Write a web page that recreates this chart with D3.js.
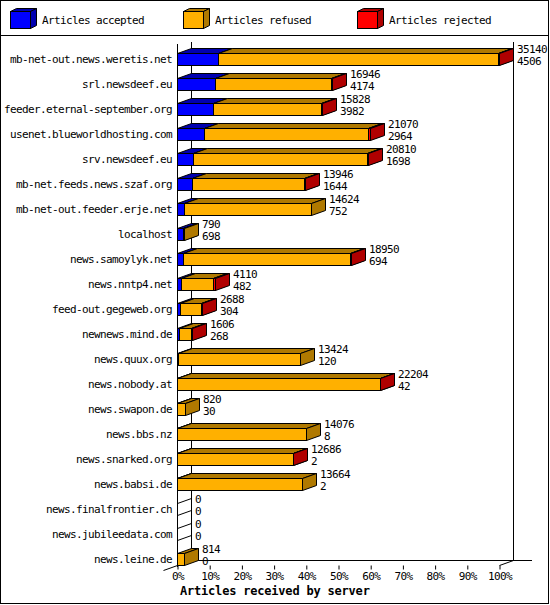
<!DOCTYPE html>
<html>
<head>
<meta charset="utf-8">
<script src="https://cdn.jsdelivr.net/npm/d3@7"></script>
<style>
  html, body { margin: 0; padding: 0; background: #fff; }
  svg { display: block; }
  text { font-family: "DejaVu Sans Mono", "Liberation Mono", monospace; }
  .sm { font-size: 11px; letter-spacing: -0.62px; }
</style>
</head>
<body>
<svg id="chart" width="550" height="605"></svg>
<script>
const categories = [
  "mb-net-out.news.weretis.net", "srl.newsdeef.eu", "feeder.eternal-september.org",
  "usenet.blueworldhosting.com", "srv.newsdeef.eu", "mb-net.feeds.news.szaf.org",
  "mb-net-out.feeder.erje.net", "localhost", "news.samoylyk.net", "news.nntp4.net",
  "feed-out.gegeweb.org", "newnews.mind.de", "news.quux.org", "news.nobody.at",
  "news.swapon.de", "news.bbs.nz", "news.snarked.org", "news.babsi.de",
  "news.finalfrontier.ch", "news.jubileedata.com", "news.leine.de"
];
const offered  = [35140, 16946, 15828, 21070, 20810, 13946, 14624, 790, 18950, 4110, 2688, 1606, 13424, 22204, 820, 14076, 12686, 13664, 0, 0, 814];
const accepted = [4506, 4174, 3982, 2964, 1698, 1644, 752, 698, 694, 482, 304, 268, 120, 42, 30, 8, 2, 2, 0, 0, 0];
const refused  = [30534, 12652, 11786, 17856, 19032, 12242, 13872, 92, 18156, 3448, 2334, 1258, 13304, 22062, 790, 14068, 12644, 13662, 0, 0, 814];
const rejected = [100, 120, 60, 250, 80, 60, 0, 0, 100, 180, 50, 80, 0, 100, 0, 0, 40, 0, 0, 0, 0];
const seriesNames = ["Articles accepted", "Articles refused", "Articles rejected"];
const seriesColors = ["#0000ff", "#ffb000", "#ff0000"];
const seriesDark = ["#0000b0", "#b07900", "#b00000"];
const percentTicks = [0, 10, 20, 30, 40, 50, 60, 70, 80, 90, 100];
const xTitle = "Articles received by server";

const svg = d3.select("#chart");
const DX = 14, DY = 5, HALF = 6;

const x = d3.scaleLinear().domain([0, d3.max(offered)]).range([177, 499]);
const xp = d3.scaleLinear().domain([0, 100]).range([177, 499]);
const y = d3.scalePoint().domain(categories).range([59, 559]);

// frame
svg.append("rect").attr("x", 0.5).attr("y", 0.5).attr("width", 548).attr("height", 603)
  .attr("fill", "none").attr("stroke", "#000");
svg.append("line").attr("x1", 0).attr("x2", 549).attr("y1", 35.5).attr("y2", 35.5).attr("stroke", "#000");

// legend
const legX = [10, 183, 357];
seriesNames.forEach((n, i) => {
  const g = svg.append("g");
  const x0 = legX[i], y0 = 11, w = 20, h = 17, d = 6, e = 3;
  g.append("polygon").attr("points", [[x0, y0], [x0 + d, y0 - e], [x0 + w + d, y0 - e], [x0 + w, y0]].map(p => p.map(v => v + 0.5).join(",")).join(" "))
    .attr("fill", seriesDark[i]).attr("stroke", "#000");
  g.append("polygon").attr("points", [[x0 + w, y0], [x0 + w + d, y0 - e], [x0 + w + d, y0 + h - e], [x0 + w, y0 + h]].map(p => p.map(v => v + 0.5).join(",")).join(" "))
    .attr("fill", seriesDark[i]).attr("stroke", "#000");
  g.append("rect").attr("x", x0 + 0.5).attr("y", y0 + 0.5).attr("width", w).attr("height", h)
    .attr("fill", seriesColors[i]).attr("stroke", "#000");
  g.append("text").attr("class", "sm").attr("x", x0 + 32).attr("y", 24).text(n);
});

// back walls
const topY = 42, backFloor = 560, frontFloor = 565;
svg.append("line").attr("x1", 191.5).attr("x2", 191.5).attr("y1", topY).attr("y2", backFloor).attr("stroke", "#000");
svg.append("line").attr("x1", 513.5).attr("x2", 513.5).attr("y1", topY).attr("y2", backFloor).attr("stroke", "#000");
svg.append("line").attr("x1", 191).attr("x2", 532).attr("y1", backFloor + 0.5).attr("y2", backFloor + 0.5).attr("stroke", "#000");
svg.append("line").attr("x1", 499.5).attr("y1", frontFloor + 0.5).attr("x2", 513.5).attr("y2", backFloor + 0.5).attr("stroke", "#000");
svg.append("line").attr("x1", 163.5).attr("y1", 570.5).attr("x2", 191.5).attr("y2", backFloor + 0.5).attr("stroke", "#000");
svg.append("line").attr("x1", 177.5).attr("x2", 177.5).attr("y1", 44).attr("y2", 567).attr("stroke", "#000");

// bars
function pts(a) { return a.map(p => (p[0] + 0.5) + "," + (p[1] + 0.5)).join(" "); }
function box(g, x0, x1, yc, fill, dark) {
  const t = yc - HALF, b = yc + HALF;
  g.append("rect").attr("x", x0 + 0.5).attr("y", t + 0.5).attr("width", x1 - x0).attr("height", b - t)
    .attr("fill", fill).attr("stroke", "#000");
  g.append("polygon").attr("points", pts([[x0, t], [x1, t], [x1 + DX, t - DY], [x0 + DX, t - DY]]))
    .attr("fill", dark).attr("stroke", "#000");
  g.append("polygon").attr("points", pts([[x1, t], [x1 + DX, t - DY], [x1 + DX, b - DY], [x1, b]]))
    .attr("fill", dark).attr("stroke", "#000");
}
const barsG = svg.append("g");
categories.forEach((c, i) => {
  const yc = Math.round(y(c));
  const g = barsG.append("g");
  const vals = [accepted[i], refused[i], rejected[i]];
  let cum = 0;
  if (offered[i] === 0) {
    const x0 = Math.round(x(0)), t = yc - HALF, b = yc + HALF;
    g.append("polygon").attr("points", pts([[x0, t], [x0 + DX, t - DY], [x0 + DX, b - DY], [x0, b]]))
      .attr("fill", "none").attr("stroke", "#000");
  }
  vals.forEach((v, k) => {
    if (v <= 0) return;
    const x0 = Math.round(x(cum)); cum += v;
    const x1 = Math.round(x(cum));
    box(g, x0, x1, yc, seriesColors[k], seriesDark[k]);
  });
  const endX = Math.round(x(offered[i])) + DX + 4;
  g.append("text").attr("class", "sm").attr("x", endX).attr("y", yc - HALF).text(offered[i]);
  g.append("text").attr("class", "sm").attr("x", endX).attr("y", yc + HALF).text(accepted[i]);
  svg.append("text").attr("class", "sm").attr("x", 172).attr("y", yc + 4).attr("text-anchor", "end").text(c);
});

// x axis ticks
const axis = d3.axisBottom(xp).tickValues(percentTicks).tickFormat(d => d + "%").tickSize(4).tickPadding(3);
const ax = svg.append("g").attr("transform", "translate(0.5," + (frontFloor + 0.5) + ")").call(axis);
ax.select(".domain").remove();
ax.selectAll("line").attr("stroke", "#000");
ax.selectAll("text").attr("class", "sm").attr("font-size", null).attr("font-family", null).attr("fill", "#000");

svg.append("text").attr("x", 180).attr("y", 595).attr("font-size", 12).attr("letter-spacing", "-0.2px").attr("font-weight", "bold").text(xTitle);
</script>
</body>
</html>
